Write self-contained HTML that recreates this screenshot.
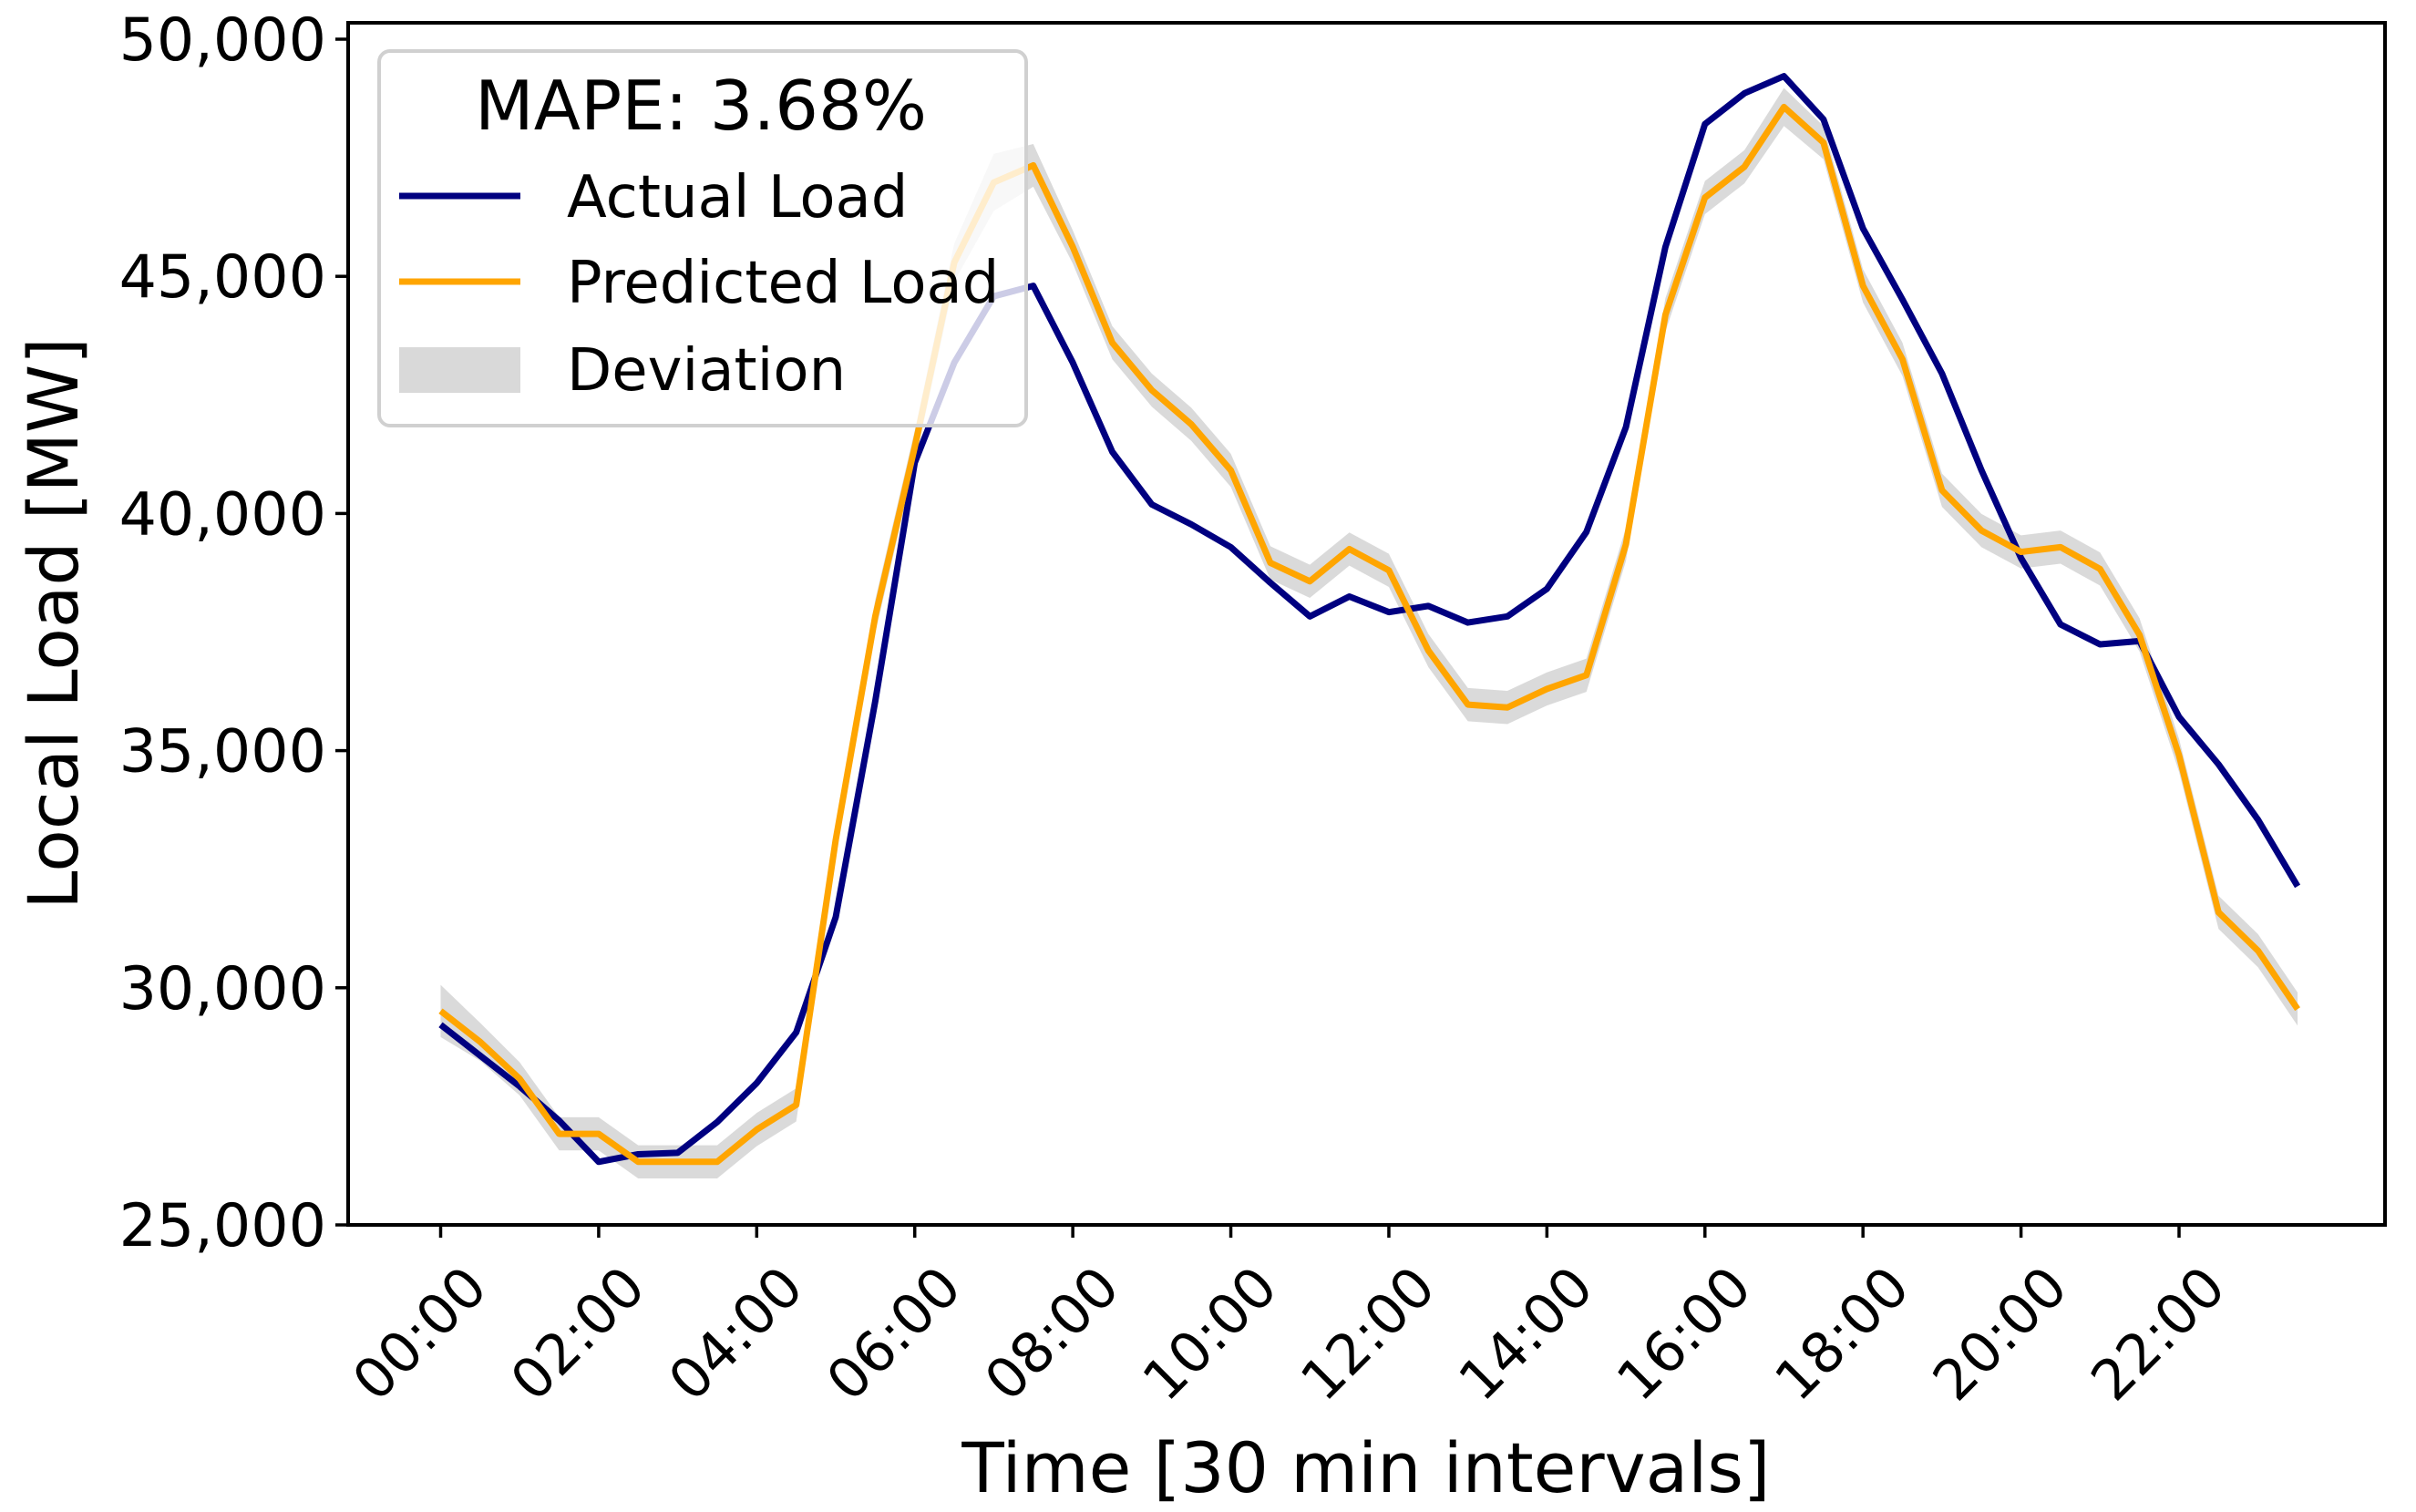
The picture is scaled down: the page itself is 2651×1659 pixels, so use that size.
<!DOCTYPE html>
<html><head><meta charset="utf-8"><style>
html,body{margin:0;padding:0;background:#fff;}
svg{display:block;font-family:"DejaVu Sans","Liberation Sans",sans-serif;}
</style></head><body>
<svg id="chart" width="2651" height="1659" viewBox="0 0 2651 1659" xmlns="http://www.w3.org/2000/svg">
<rect width="2651" height="1659" fill="#fff"/>
<g id="band"></g>
<g id="lines"></g>
<g id="axes"></g>
<text transform="translate(85,684) rotate(-90)" text-anchor="middle" font-size="76">Local Load [MW]</text>
<text x="1499" y="1637" text-anchor="middle" font-size="76">Time [30 min intervals]</text>
<g>
<rect x="416" y="56" width="710" height="411" rx="12" fill="#fff" fill-opacity="0.8" stroke="#d0d0d0" stroke-width="4"/>
<text x="769" y="142" text-anchor="middle" font-size="75">MAPE: 3.68%</text>
<line x1="438" y1="215" x2="571" y2="215" stroke="#000080" stroke-width="7"/>
<text x="622" y="238" font-size="64">Actual Load</text>
<line x1="438" y1="309" x2="571" y2="309" stroke="#FFA500" stroke-width="7"/>
<text x="622" y="332" font-size="64">Predicted Load</text>
<rect x="438" y="381" width="133" height="50" fill="#d9d9d9"/>
<text x="622" y="428" font-size="64">Deviation</text>
</g>
</svg>
<script>
const actual=[29220,28570,27920,27200,26330,26490,26520,27170,27990,29060,31490,36040,41070,43180,44580,44800,43180,41300,40190,39770,39290,38540,37830,38250,37920,38050,37700,37830,38410,39610,41820,45620,48210,48860,49220,48310,46010,44510,42950,40910,39060,37660,37240,37310,35710,34710,33540,32140];
const predicted=[29510,28860,28080,26920,26920,26330,26330,26330,27010,27530,33120,37830,41400,45290,46980,47340,45620,43600,42600,41880,40910,38960,38570,39250,38800,37110,35970,35910,36300,36590,39350,44190,46660,47310,48570,47820,44800,43250,40490,39640,39190,39290,38830,37440,34900,31590,30780,29550];
const deviation=[550,400,350,350,350,350,350,350,350,350,350,350,350,400,600,450,350,350,350,350,350,350,350,350,350,350,350,350,350,350,350,350,350,350,400,350,350,350,350,350,350,350,350,350,350,350,350,350];
const yTicks=[25000,30000,35000,40000,45000,50000];
const xTickLabels=["00:00","02:00","04:00","06:00","08:00","10:00","12:00","14:00","16:00","18:00","20:00","22:00"];
const NS="http://www.w3.org/2000/svg";
const L=382,R=2617,T=25,B=1344;
function xs(i){return 483.5+i*(2391-483.5)/44;}
function ys(v){return B-(v-25000)*(B-43)/25000;}
function mk(tag,attrs,parent){const e=document.createElementNS(NS,tag);for(const k in attrs)e.setAttribute(k,attrs[k]);parent.appendChild(e);return e;}
const band=document.getElementById('band'),lines=document.getElementById('lines'),axes=document.getElementById('axes');
let up=predicted.map((v,i)=>xs(i)+','+ys(v+deviation[i]));
let dn=predicted.map((v,i)=>xs(i)+','+ys(v-deviation[i])).reverse();
const bp=mk('polygon',{points:up.concat(dn).join(' '),fill:'#d3d3d3','fill-opacity':'0.85'},band);


const la=mk('polyline',{points:actual.map((v,i)=>xs(i)+','+ys(v)).join(' '),fill:'none',stroke:'#000080','stroke-width':'7','stroke-linejoin':'round'},lines);


const lp=mk('polyline',{points:predicted.map((v,i)=>xs(i)+','+ys(v)).join(' '),fill:'none',stroke:'#FFA500','stroke-width':'7','stroke-linejoin':'round'},lines);


const fr=mk('rect',{x:L,y:T,width:R-L,height:B-T,fill:'none',stroke:'#000','stroke-width':'4'},axes);


yTicks.forEach(v=>{
  const y=ys(v);
  const t=mk('line',{x1:L-14,y1:y,x2:L,y2:y,stroke:'#000','stroke-width':'3.5'},axes);
  
  
  const tx=mk('text',{x:L-24,y:y+23,'text-anchor':'end','font-size':'65'},axes);
  
  
  tx.textContent=v.toLocaleString('en-US');
});
xTickLabels.forEach((lab,k)=>{
  const x=xs(k*4);
  const t=mk('line',{x1:x,y1:B,x2:x,y2:B+14,stroke:'#000','stroke-width':'3.5'},axes);
  
  
  const tx=mk('text',{transform:'translate('+(x+54)+','+(B+72)+') rotate(-45)','text-anchor':'end','font-size':'61'},axes);
  
  
  tx.textContent=lab;
});
</script>
</body></html>
